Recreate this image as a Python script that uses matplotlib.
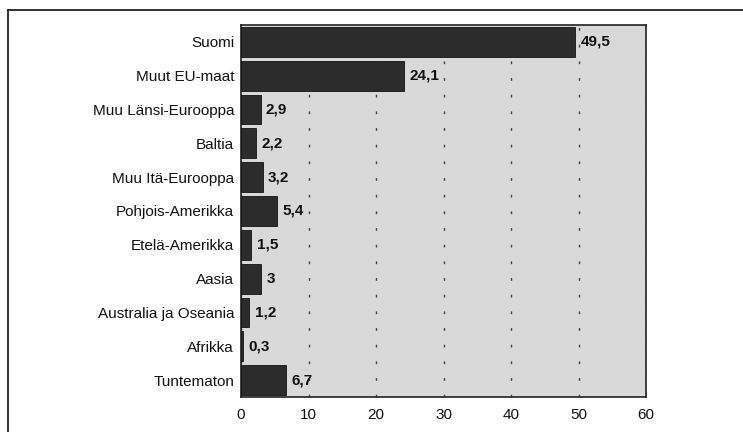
import matplotlib.pyplot as plt
from matplotlib.lines import Line2D

plt.rcParams['font.family'] = ['Liberation Sans', 'DejaVu Sans']

# ── Data ──────────────────────────────────────────────────────────────────────
regions = ['Suomi', 'Muut EU-maat', 'Muu Länsi-Eurooppa', 'Baltia',
           'Muu Itä-Eurooppa', 'Pohjois-Amerikka', 'Etelä-Amerikka', 'Aasia',
           'Australia ja Oseania', 'Afrikka', 'Tuntematon']
shares = [49.5, 24.1, 2.9, 2.2, 3.2, 5.4, 1.5, 3, 1.2, 0.3, 6.7]
value_labels = ['49,5', '24,1', '2,9', '2,2', '3,2', '5,4', '1,5', '3', '1,2', '0,3', '6,7']
x_ticks = [0, 10, 20, 30, 40, 50, 60]

# ── Figure ────────────────────────────────────────────────────────────────────
fig = plt.figure(figsize=(7.43, 4.32), dpi=100)
ax = fig.add_axes([241 / 743, 1 - 397 / 432, 405 / 743, 372 / 432])
ax.set_facecolor('#d9d9d9')

pos = list(range(len(regions)))
ax.barh(pos, shares, height=0.88, color='#2c2c2c', edgecolor='#141414',
        linewidth=0.6, zorder=3)
for p, v, lab in zip(pos, shares, value_labels):
    ax.text(v + 0.8, p, lab, va='center', ha='left', fontsize=11,
            fontweight='bold', color='#111111', zorder=4)

ax.set_xlim(0, 60)
ax.set_ylim(len(regions) - 0.5, -0.5)
ax.set_yticks(pos)
ax.set_yticklabels(regions, fontsize=11, color='#111111')
ax.set_xticks(x_ticks)
ax.set_xticklabels([str(t) for t in x_ticks], fontsize=11, color='#111111')
ax.tick_params(length=0, pad=5)
ax.tick_params(axis='x', pad=8)

ax.grid(axis='x', color='#444444', linewidth=1.0, linestyle=(0, (2, 10)), zorder=1)
ax.set_axisbelow(True)
for s in ax.spines.values():
    s.set_linewidth(1.2)
    s.set_color('#222222')

# ── Outer frame (top and left only) ───────────────────────────────────────────
fig.add_artist(Line2D([8 / 743, 1], [1 - 10 / 432, 1 - 10 / 432],
                      transform=fig.transFigure, color='#222222', linewidth=1.3))
fig.add_artist(Line2D([8 / 743, 8 / 743], [0, 1 - 10 / 432],
                      transform=fig.transFigure, color='#222222', linewidth=1.3))

fig.savefig('out.png', dpi=100)
plt.close()
